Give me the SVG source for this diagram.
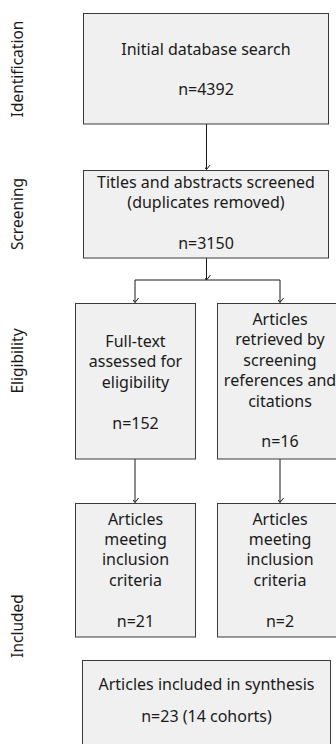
<svg xmlns="http://www.w3.org/2000/svg" width="336" height="744" viewBox="0 0 336 744">
<defs>
<style>
.box{fill:#f0f0f0;stroke:#3a3a3a;stroke-width:1}
.t{font-family:"Noto Sans","Open Sans",sans-serif;font-size:16px;fill:#1a1a1a;text-anchor:middle}
.side{font-family:"Noto Sans","Open Sans",sans-serif;font-size:15.5px;fill:#1a1a1a;text-anchor:middle}
.c{fill:none;stroke:#1a1a1a;stroke-width:1}
</style>
<marker id="ah" markerWidth="10" markerHeight="8" viewBox="-5 -6 10 8" refX="0" refY="0" orient="auto" markerUnits="userSpaceOnUse">
<path d="M-4,-5 L0,0 L4,-5" transform="rotate(-90)" fill="none" stroke="#1a1a1a" stroke-width="1"/>
</marker>
</defs>
<rect width="336" height="744" fill="#ffffff"/>
<g id="labels">
<text class="side" transform="translate(23,69) rotate(-90)">Identification</text>
<text class="side" transform="translate(23,214) rotate(-90)">Screening</text>
<text class="side" transform="translate(23,361) rotate(-90)">Eligibility</text>
<text class="side" transform="translate(23,626) rotate(-90)">Included</text>
</g>
<g id="connectors">
<path class="c" d="M206.5,124 V169.5" marker-end="url(#ah)"/>
<path class="c" d="M206.5,258 V280" marker-end="url(#ah)"/>
<path class="c" d="M135,280 H280"/>
<path class="c" d="M135,280 V302.5" marker-end="url(#ah)"/>
<path class="c" d="M280,280 V302.5" marker-end="url(#ah)"/>
<path class="c" d="M135,459 V502.5" marker-end="url(#ah)"/>
<path class="c" d="M280,459 V502.5" marker-end="url(#ah)"/>
</g>
<g id="n1">
<rect class="box" x="83.5" y="13.5" width="245" height="110.5"/>
<text class="t" x="206" y="55">Initial database search</text>
<text class="t" x="206" y="95">n=4392</text>
</g>
<g id="n2">
<rect class="box" x="83.5" y="170.5" width="245" height="87.5"/>
<text class="t" x="206" y="188">Titles and abstracts screened</text>
<text class="t" x="206" y="208">(duplicates removed)</text>
<text class="t" x="206" y="249">n=3150</text>
</g>
<g id="n3">
<rect class="box" x="75.5" y="303.5" width="120" height="155.5"/>
<text class="t" x="135.5" y="347">Full-text</text>
<text class="t" x="135.5" y="367.4">assessed for</text>
<text class="t" x="135.5" y="387.8">eligibility</text>
<text class="t" x="135.5" y="428.6">n=152</text>
</g>
<g id="n4">
<rect class="box" x="217.5" y="303.5" width="126" height="155.5"/>
<text class="t" x="280" y="325">Articles</text>
<text class="t" x="280" y="345.4">retrieved by</text>
<text class="t" x="280" y="365.8">screening</text>
<text class="t" x="280" y="386.2">references and</text>
<text class="t" x="280" y="406.6">citations</text>
<text class="t" x="280" y="447.4">n=16</text>
</g>
<g id="n5">
<rect class="box" x="75.5" y="503.5" width="120" height="133.5"/>
<text class="t" x="135.5" y="524.5">Articles</text>
<text class="t" x="135.5" y="544.9">meeting</text>
<text class="t" x="135.5" y="565.3">inclusion</text>
<text class="t" x="135.5" y="585.7">criteria</text>
<text class="t" x="135.5" y="626.5">n=21</text>
</g>
<g id="n6">
<rect class="box" x="217.5" y="503.5" width="126" height="133.5"/>
<text class="t" x="280" y="524.5">Articles</text>
<text class="t" x="280" y="544.9">meeting</text>
<text class="t" x="280" y="565.3">inclusion</text>
<text class="t" x="280" y="585.7">criteria</text>
<text class="t" x="280" y="626.5">n=2</text>
</g>
<g id="n7">
<rect class="box" x="82.5" y="660.5" width="248" height="100"/>
<text class="t" x="206.5" y="690">Articles included in synthesis</text>
<text class="t" x="206.5" y="722">n=23 (14 cohorts)</text>
</g>
</svg>
